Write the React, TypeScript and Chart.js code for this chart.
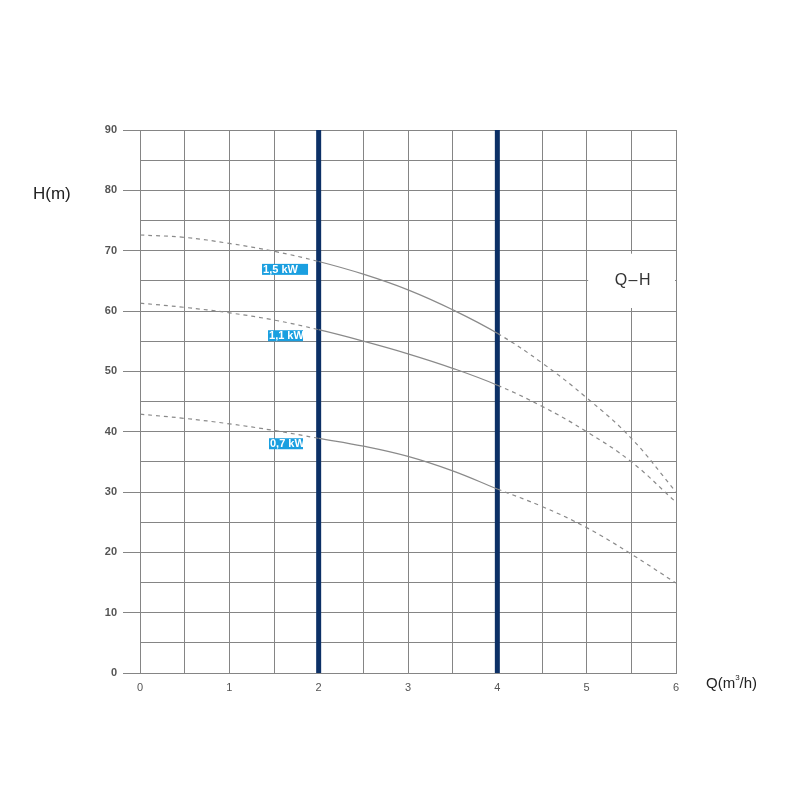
import React, { useEffect, useRef } from "react";
import { Chart, registerables } from "chart.js";

Chart.register(...registerables);

const flowQ = [0, 0.5, 1, 1.5, 2, 2.5, 3, 3.5, 4, 4.5, 5, 5.5, 6];
const head15 = [72.6, 72.2, 71.2, 69.9, 68.2, 66.1, 63.5, 60.2, 56.3, 51.4, 45.6, 38.9, 30.0];
const head11 = [61.3, 60.6, 59.7, 58.5, 56.9, 55.0, 52.9, 50.5, 47.7, 44.2, 40.0, 35.0, 28.3];
const head07 = [42.9, 42.2, 41.3, 40.2, 38.9, 37.6, 35.9, 33.5, 30.5, 27.6, 24.1, 19.7, 14.9];
const curveNames = ["1,5 kW", "1,1 kW", "0,7 kW"];
const labelQ = [1.366, 1.433, 1.444];
const labelH = [66.9, 55.9, 38.0];
const markerQ = [2, 4];
const solidFrom = 2;
const solidTo = 4;
const xMin = 0, xMax = 6, xStep = 0.5;
const yMin = 0, yMax = 90, yStep = 5;

export default function App() {
  const ref = useRef<HTMLCanvasElement>(null);
  useEffect(() => {
    const canvas = ref.current!;
    const curveColor = "#8a8a8a";
    const toPts = (arr: number[]) => flowQ.map((q, i) => ({ x: q, y: arr[i] }));
    const curveDs = (arr: number[], name: string) => ({
      label: name,
      data: toPts(arr),
      borderColor: curveColor,
      borderWidth: 1.2,
      pointRadius: 0,
      tension: 0.4,
      segment: {
        borderDash: (ctx: any) =>
          ctx.p0.parsed.x < solidFrom || ctx.p0.parsed.x >= solidTo ? [4, 4] : undefined,
      },
    });
    const markerDs = markerQ.map((q) => ({
      label: "m" + q,
      data: [{ x: q, y: yMin }, { x: q, y: yMax }],
      borderColor: "#0c3066",
      borderWidth: 5,
      pointRadius: 0,
      borderCapStyle: "butt" as const,
    }));

    const boxW = [46, 35, 34];
    const overlay = {
      id: "overlay",
      afterDatasetsDraw(chart: any) {
        const c = chart.ctx;
        const xs = chart.scales.x, ys = chart.scales.y;
        c.save();
        // Q-H box
        const qx0 = xs.getPixelForValue(5), qx1 = xs.getPixelForValue(6);
        const qy0 = ys.getPixelForValue(69.5), qy1 = ys.getPixelForValue(60.5);
        c.fillStyle = "#fff";
        c.fillRect(qx0 + 1.5, qy0, qx1 - qx0 - 2.5, qy1 - qy0);
        c.fillStyle = "#333";
        c.font = "16px 'Liberation Sans', Arial, sans-serif";
        c.textAlign = "center";
        c.textBaseline = "middle";
        try { (c as any).letterSpacing = "1.5px"; } catch (e) {}
        c.fillText("Q\u2013H", (qx0 + qx1) / 2 + 2, (qy0 + qy1) / 2);
        try { (c as any).letterSpacing = "0px"; } catch (e) {}
        // labels
        c.textAlign = "left";
        c.font = "bold 11px 'Liberation Sans', Arial, sans-serif";
        curveNames.forEach((n, i) => {
          const px = xs.getPixelForValue(labelQ[i]);
          const py = ys.getPixelForValue(labelH[i]);
          c.fillStyle = "#1a9fe0";
          c.fillRect(px, py - 5.5, boxW[i], 11);
          c.fillStyle = "#fff";
          c.fillText(n, px + 1, py + 0.5);
        });
        // axis titles
        c.fillStyle = "#222";
        c.font = "17px 'Liberation Sans', Arial, sans-serif";
        c.textAlign = "left";
        c.fillText("H(m)", 33, 194);
        c.font = "15px 'Liberation Sans', Arial, sans-serif";
        let x = 706;
        const y = 684;
        c.fillText("Q(m", x, y);
        x += c.measureText("Q(m").width;
        c.font = "8px 'Liberation Sans', Arial, sans-serif";
        c.fillText("3", x, y - 6);
        x += c.measureText("3").width;
        c.font = "15px 'Liberation Sans', Arial, sans-serif";
        c.fillText("/h)", x, y);
        c.restore();
      },
    };

    const gridColor = "#858585";
    const chart = new Chart(canvas, {
      type: "line",
      data: {
        datasets: [
          curveDs(head15, curveNames[0]),
          curveDs(head11, curveNames[1]),
          curveDs(head07, curveNames[2]),
          ...markerDs,
        ] as any,
      },
      options: {
        animation: false,
        responsive: false,
        layout: { padding: { top: 130, right: 124, bottom: 0, left: 0 } },
        plugins: { legend: { display: false }, tooltip: { enabled: false } },
        scales: {
          x: {
            type: "linear",
            min: xMin,
            max: xMax,
            afterFit: (s: any) => { s.height = 127; },
            ticks: {
              stepSize: xStep,
              autoSkip: false,
              maxRotation: 0,
              padding: 8,
              color: "#555",
              font: { size: 11, family: "'Liberation Sans', Arial, sans-serif" },
              callback: (v: any) => (Number(v) % 1 === 0 ? String(v) : ""),
            },
            grid: { color: gridColor, lineWidth: 1, drawTicks: false },
            border: { color: gridColor, width: 1 },
          },
          y: {
            type: "linear",
            min: yMin,
            max: yMax,
            afterFit: (s: any) => { s.width = 140; },
            ticks: {
              stepSize: yStep,
              autoSkip: false,
              padding: 6,
              color: "#555",
              font: { size: 11, weight: "bold", family: "'Liberation Sans', Arial, sans-serif" },
              callback: (v: any) => (Number(v) % 10 === 0 ? String(v) : ""),
            },
            grid: {
              color: gridColor,
              lineWidth: 1,
              tickLength: 17,
              tickColor: (ctx: any) =>
                ctx.tick && ctx.tick.value % 10 === 0 ? gridColor : "rgba(0,0,0,0)",
            },
            border: { color: gridColor, width: 1 },
          },
        },
      },
      plugins: [overlay],
    });
    return () => chart.destroy();
  }, []);
  return (
    <div style={{ position: "absolute", left: 0, top: 0, width: 800, height: 800, background: "#fff" }}>
      <canvas ref={ref} width={800} height={800} />
    </div>
  );
}
